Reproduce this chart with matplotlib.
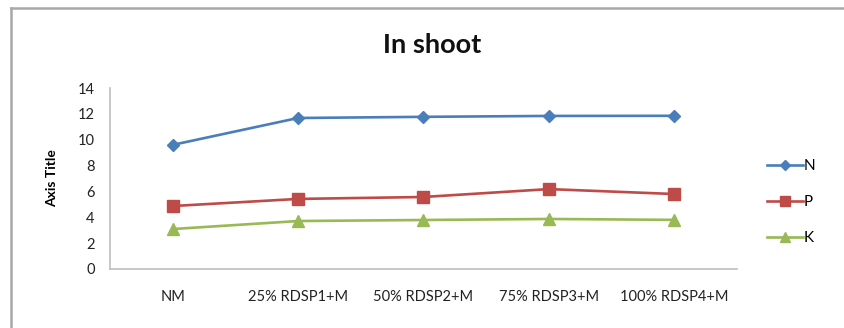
import matplotlib
matplotlib.use("Agg")
from matplotlib import pyplot as plt
from matplotlib.lines import Line2D

plt.rcParams['font.family'] = ['Lato', 'DejaVu Sans']

categories = ["NM", "25% RDSP1+M", "50% RDSP2+M", "75% RDSP3+M", "100% RDSP4+M"]
n_values = [9.6, 11.68, 11.77, 11.84, 11.85]
p_values = [4.87, 5.42, 5.57, 6.18, 5.8]
k_values = [3.09, 3.71, 3.79, 3.87, 3.8]
y_ticks = [0, 2, 4, 6, 8, 10, 12, 14]

series = [
    ("N", n_values, "#4A7EBB", "D", 6),
    ("P", p_values, "#BE4B48", "s", 8),
    ("K", k_values, "#98B954", "^", 8),
]

fig = plt.figure(figsize=(8.44, 3.28), dpi=100)
ax = fig.add_axes([0.1303, 0.1799, 0.7427, 0.5518])

x = list(range(len(categories)))
for name, vals, color, marker, ms in series:
    ax.plot(x, vals, color=color, marker=marker, markersize=ms, linewidth=1.9,
            markeredgecolor=color, label=name)

ax.set_xlim(-0.5, len(categories) - 0.5)
ax.set_ylim(0, 14)
ax.set_yticks(y_ticks)
ax.set_xticks(x)
ax.set_xticklabels(categories)
ax.tick_params(axis='both', length=0, labelsize=10.5, colors="#222222")
ax.tick_params(axis='x', pad=15)
ax.tick_params(axis='y', pad=11)

for side in ("top", "right"):
    ax.spines[side].set_visible(False)
for side in ("left", "bottom"):
    ax.spines[side].set_color("#BFBFBF")
    ax.spines[side].set_linewidth(1.2)

ax.set_ylabel("Axis Title", fontsize=10, fontweight="bold", labelpad=14)
fig.text(0.512, 0.862, "In shoot", ha="center", va="center",
         fontsize=19.5, fontweight="bold", color="#111111")

# chart frame (top and left edges visible)
fig.add_artist(Line2D([0.0125, 0.0125], [0.0, 0.975], transform=fig.transFigure,
                      color="#A8A8A8", linewidth=1.8))
fig.add_artist(Line2D([0.0125, 1.0], [0.975, 0.975], transform=fig.transFigure,
                      color="#A8A8A8", linewidth=1.8))

handles = [Line2D([0], [0], color=c, marker=m, markersize=ms * 0.9, linewidth=1.9,
                  markeredgecolor=c) for _, _, c, m, ms in series]
fig.legend(handles, [s[0] for s in series], loc="center left",
           bbox_to_anchor=(0.893, 0.384), frameon=False, fontsize=11,
           handlelength=2.3, handletextpad=0.1, labelspacing=1.45)

fig.savefig("out.png", dpi=100)
